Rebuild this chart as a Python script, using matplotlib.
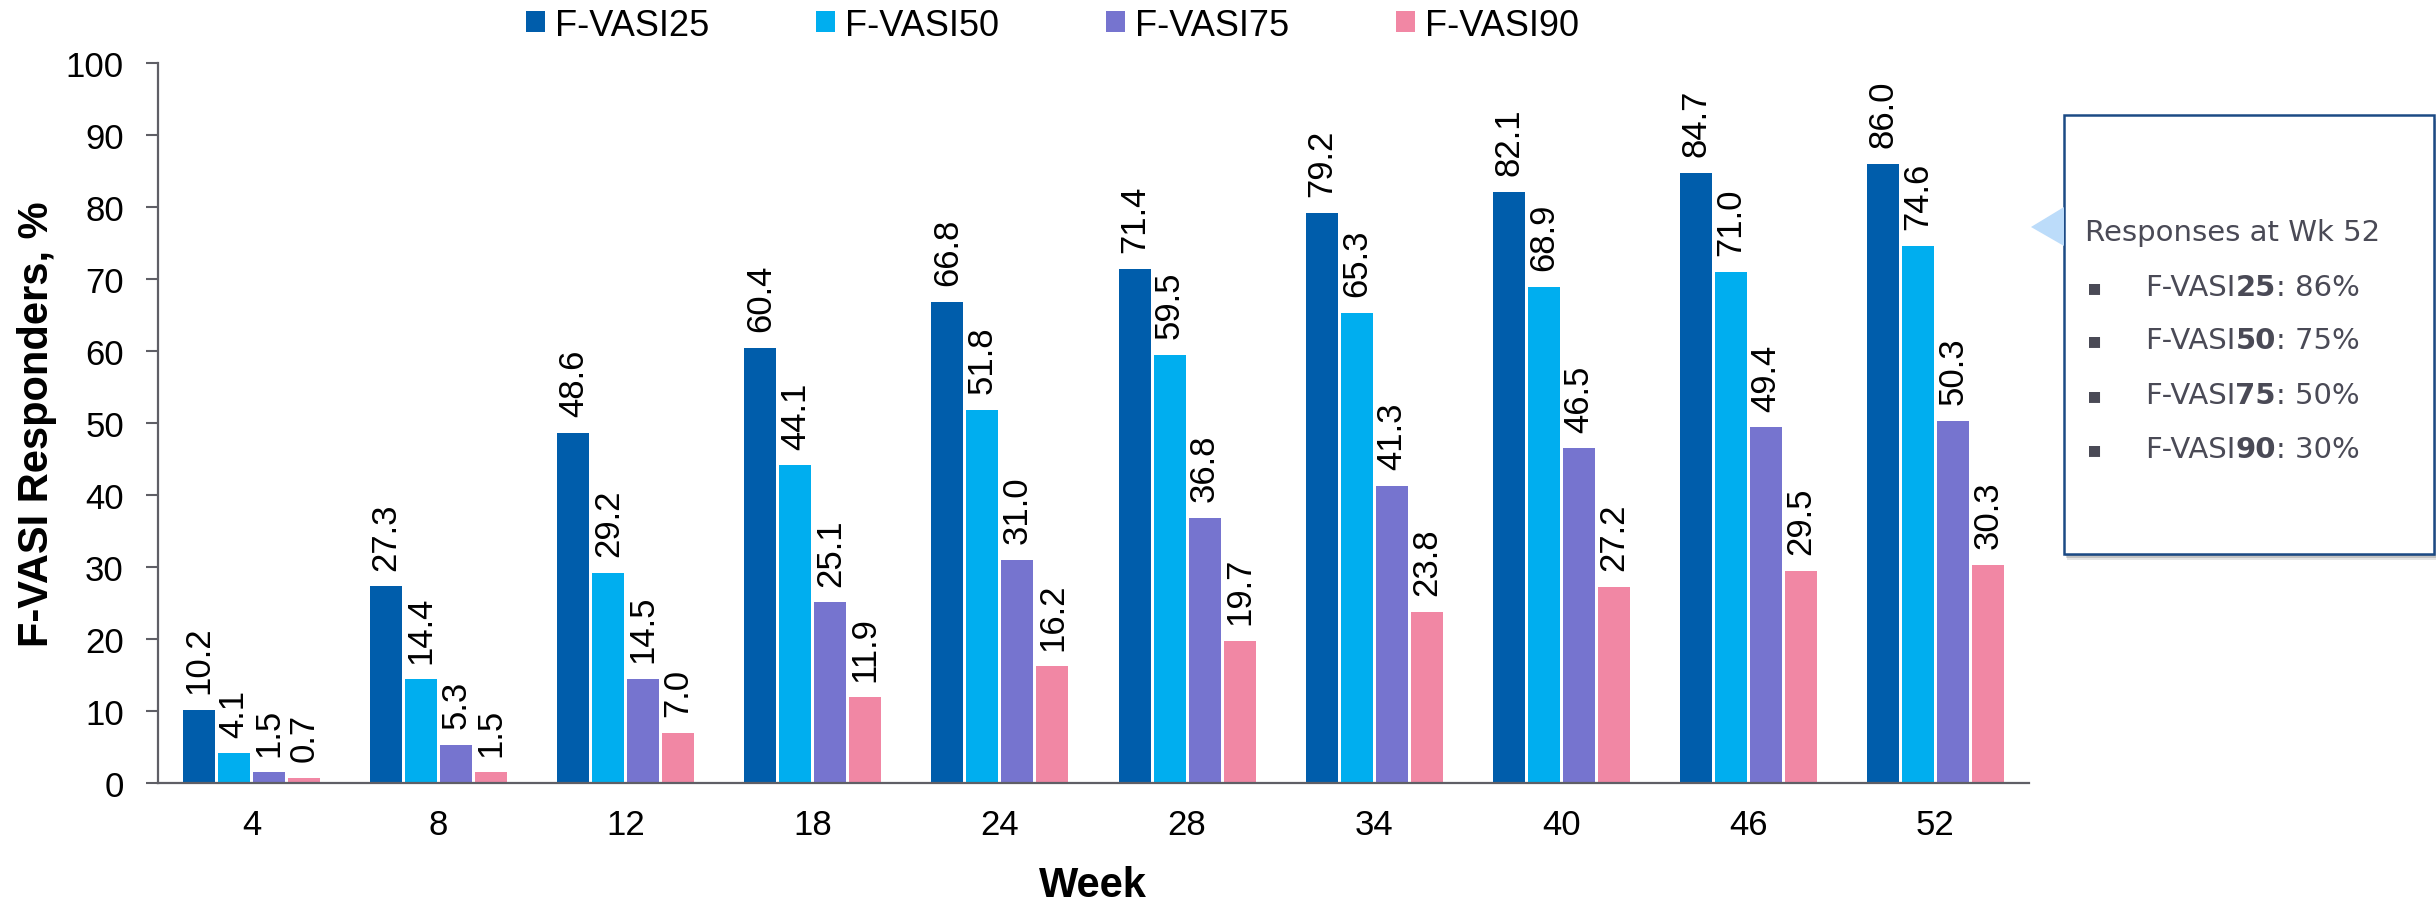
import numpy as np
import matplotlib
matplotlib.use("Agg")
import matplotlib.pyplot as plt
from matplotlib.patches import Rectangle, Polygon, Patch
from matplotlib.text import Annotation

# dados de resposta por semana (%)
semanas = ["4", "8", "12", "18", "24", "28", "34", "40", "46", "52"]
series = ["F-VASI25", "F-VASI50", "F-VASI75", "F-VASI90"]
vasi25 = [10.2, 27.3, 48.6, 60.4, 66.8, 71.4, 79.2, 82.1, 84.7, 86.0]
vasi50 = [4.1, 14.4, 29.2, 44.1, 51.8, 59.5, 65.3, 68.9, 71.0, 74.6]
vasi75 = [1.5, 5.3, 14.5, 25.1, 31.0, 36.8, 41.3, 46.5, 49.4, 50.3]
vasi90 = [0.7, 1.5, 7.0, 11.9, 16.2, 19.7, 23.8, 27.2, 29.5, 30.3]
cores = ["#005DAB", "#00AEEF", "#7674CF", "#F187A4"]

# resumo da semana 52
resumo_titulo = "Responses at Wk 52"
resumo_limiares = ["25", "50", "75", "90"]
resumo_pct = [86, 75, 50, 30]

W, H = 2436, 903
fig = plt.figure(figsize=(W / 100, H / 100), dpi=100)
ax = fig.add_axes([158 / W, 1 - 784 / H, (2029 - 158) / W, (784 - 64) / H])

fonte = ["Liberation Sans", "DejaVu Sans"]
fonte_estreita = ["Liberation Sans Narrow", "Liberation Sans", "DejaVu Sans"]

x = np.arange(len(semanas))
passo = 0.187
largura = 0.171
for i, (vals, cor) in enumerate(zip([vasi25, vasi50, vasi75, vasi90], cores)):
    pos = x + (i - 1.5) * passo
    ax.bar(pos, vals, width=largura, color=cor, edgecolor="none", zorder=2)
    for xp, v in zip(pos, vals):
        ax.annotate(f"{v:.1f}", xy=(xp, v), xytext=(0, 12), textcoords="offset points",
                    rotation=90, ha="center", va="bottom", fontsize=25,
                    family=fonte_estreita, color="black")

ax.set_xlim(-0.5, len(semanas) - 0.5)
ax.set_ylim(0, 100)
ax.set_yticks(np.arange(0, 101, 10))
ax.set_xticks(x)
ax.set_xticklabels(semanas)
for lab in ax.get_xticklabels() + ax.get_yticklabels():
    lab.set_family(fonte)
    lab.set_fontsize(25)
ax.tick_params(axis="x", length=0, pad=18)
ax.tick_params(axis="y", length=8.6, width=1.5, color="#5F5F66", pad=16, direction="out")
for s in ["top", "right"]:
    ax.spines[s].set_visible(False)
for s in ["left", "bottom"]:
    ax.spines[s].set_color("#5F5F66")
    ax.spines[s].set_linewidth(1.6)

fig.text(37 / W, 1 - 424 / H, "F-VASI Responders, %", rotation=90, ha="center", va="center",
         fontsize=30, fontweight="bold", family=fonte)
fig.text(1093 / W, 1 - 897 / H, "Week", ha="center", va="baseline",
         fontsize=30, fontweight="bold", family=fonte)

# legenda no topo
handles = [Patch(facecolor=c, edgecolor="none") for c in cores]
fig.legend(handles, series, loc="center left", bbox_to_anchor=(526 / W, 1 - 26 / H),
           ncol=4, frameon=False, prop={"family": fonte, "size": 26},
           handlelength=0.53, handleheight=0.53, handletextpad=0.28,
           columnspacing=2.95, borderpad=0, borderaxespad=0)

# caixa de resumo com sombra e seta
bx0, by0, bx1, by1 = 2064, 116, 2434, 555
bw, bh = (bx1 - bx0) / W, (by1 - by0) / H
for k, a in zip([6, 4, 2], [0.10, 0.15, 0.22]):
    fig.add_artist(Rectangle(((bx0 + k / 2) / W, 1 - (by1 + k) / H), bw, bh,
                             transform=fig.transFigure, facecolor="black",
                             edgecolor="none", alpha=a, zorder=1))
fig.add_artist(Rectangle((bx0 / W, 1 - by1 / H), bw, bh, transform=fig.transFigure,
                         facecolor="white", edgecolor="#1C4A85", linewidth=1.8, zorder=2))
fig.add_artist(Polygon([(2031 / W, 1 - 228 / H), (bx0 / W, 1 - 208 / H), (bx0 / W, 1 - 247 / H)],
                       closed=True, transform=fig.transFigure, facecolor="#BCDCFA",
                       edgecolor="none", zorder=2))

cor_txt = "#4A4A56"
fs_box = 21
fig.text(2085 / W, 1 - 241 / H, resumo_titulo, ha="left", va="baseline",
         fontsize=fs_box, family="DejaVu Sans", color=cor_txt, zorder=3)
linhas_y = [296, 349, 404, 458]
for yb, lim, pct in zip(linhas_y, resumo_limiares, resumo_pct):
    fig.text(2087 / W, 1 - (yb - 2) / H, "\u25aa", ha="left", va="baseline",
             fontsize=16, family="DejaVu Sans", color=cor_txt, zorder=3)
    t1 = fig.text(2145 / W, 1 - yb / H, "F-VASI", ha="left", va="baseline",
                  fontsize=fs_box, family="DejaVu Sans", color=cor_txt, zorder=3)
    t2 = Annotation(lim, xy=(1, 0), xycoords=t1, ha="left", va="bottom",
                    fontsize=fs_box, family="DejaVu Sans", fontweight="bold",
                    color=cor_txt, annotation_clip=False)
    t2.set_zorder(4)
    fig.add_artist(t2)
    t3 = Annotation(f": {pct}%", xy=(1, 0), xycoords=t2, ha="left", va="bottom",
                    fontsize=fs_box, family="DejaVu Sans", color=cor_txt,
                    annotation_clip=False)
    t3.set_zorder(5)
    fig.add_artist(t3)

fig.savefig("out.png", dpi=100, facecolor="white")
